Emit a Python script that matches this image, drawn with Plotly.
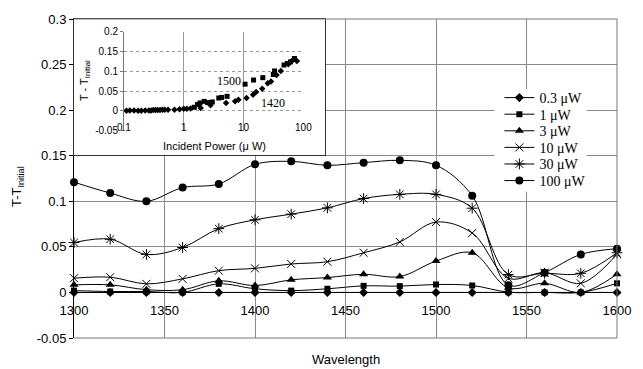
import numpy as np
import plotly.graph_objects as go

# ---- main chart: change in transmission vs wavelength for several powers ----
wavelength = [1300, 1320, 1340, 1360, 1380, 1400, 1420, 1440,
              1460, 1480, 1500, 1520, 1540, 1560, 1580, 1600]

dT_03uW = [0, 0, 0, 0, 0, 0, 0, 0, 0, 0, 0, 0, 0, 0, 0, 0]
dT_1uW = [0.002, 0.001, 0.001, 0.0, 0.0094, 0.004, 0.002, 0.004,
          0.0072, 0.0069, 0.0087, 0.0076, 0.0003, 0.0, 0.0, 0.010]
dT_3uW = [0.0083, 0.0083, 0.003, 0.003, 0.0127, 0.0076, 0.0138, 0.0163,
          0.0199, 0.0174, 0.0344, 0.0435, 0.005, 0.010, 0.0, 0.020]
dT_10uW = [0.0156, 0.0167, 0.0094, 0.0149, 0.0239, 0.0264, 0.0312, 0.0337,
           0.0435, 0.0554, 0.0772, 0.0652, 0.0155, 0.0217, 0.010, 0.042]
dT_30uW = [0.0547, 0.0584, 0.0417, 0.0493, 0.070, 0.0797, 0.0859, 0.0928,
           0.103, 0.1076, 0.1076, 0.0924, 0.0195, 0.021, 0.021, 0.0435]
dT_100uW = [0.121, 0.109, 0.100, 0.115, 0.119, 0.1405, 0.1438, 0.1395,
            0.1424, 0.1449, 0.1395, 0.106, 0.008, 0.0217, 0.0417, 0.048]

series_names = ["0.3 \u03bcW", "1 \u03bcW", "3 \u03bcW", "10 \u03bcW", "30 \u03bcW", "100 \u03bcW"]
series_values = [dT_03uW, dT_1uW, dT_3uW, dT_10uW, dT_30uW, dT_100uW]

x_ticks = [1300, 1350, 1400, 1450, 1500, 1550, 1600]
y_ticks = [-0.05, 0, 0.05, 0.1, 0.15, 0.2, 0.25, 0.3]
y_ticktext = ["-0.05", "0", "0.05", "0.1", "0.15", "0.2", "0.25", "0.3"]

# ---- inset: change in transmission vs incident power at two wavelengths ----
power_1420 = [0.11, 0.125, 0.147, 0.172, 0.195, 0.227, 0.26, 0.284, 0.31, 0.338,
              0.365, 0.40, 0.44, 0.48, 0.546, 0.70, 0.85, 1.0, 1.13, 1.3,
              1.92, 2.8, 5.1, 7.2, 8.2, 11.2, 14.4, 16.2, 20.5, 25.4,
              28.8, 35.6, 42, 56, 66, 78]
dT_1420 = [0.0, 0.001, 0.001, 0.0, 0.0, 0.001, 0.001, 0.001, 0.002, 0.002,
           0.002, 0.002, 0.003, 0.003, 0.003, 0.003, 0.004, 0.005, 0.005, 0.006,
           0.0075, 0.014, 0.02, 0.024, 0.028, 0.0325, 0.041, 0.0475, 0.056, 0.07,
           0.074, 0.091, 0.101, 0.118, 0.128, 0.126]
power_1500 = [1.5, 1.7, 1.87, 2.2, 2.5, 3.0, 3.85, 4.3, 5.3, 10.6,
              14.7, 21, 31.5, 33, 47.5, 54, 61, 71]
dT_1500 = [0.009, 0.016, 0.02, 0.024, 0.021, 0.0225, 0.0325, 0.034, 0.0367, 0.0675,
           0.078, 0.084, 0.092, 0.101, 0.116, 0.12, 0.124, 0.1325]

inset_x_ticks = [0.1, 1, 10, 100]
inset_x_ticktext = ["0.1", "1", "10", "100"]
inset_y_ticks = [-0.05, 0, 0.05, 0.1, 0.15, 0.2]
inset_y_ticktext = ["-0.05", "0", "0.05", "0.1", "0.15", "0.2"]

SANS = "Liberation Sans, Arial, sans-serif"
SERIF = "Liberation Serif, Times New Roman, serif"

markers = [
    dict(symbol="diamond", size=7, color="black"),
    dict(symbol="square", size=6, color="black"),
    dict(symbol="triangle-up", size=8, color="black"),
    dict(symbol="x-thin-open", size=8, color="black", line=dict(color="black", width=1)),
    dict(symbol="asterisk-open", size=9, color="black", line=dict(color="black", width=1)),
    dict(symbol="circle", size=8, color="black"),
]

W, H = 643, 369
ML, MR, MT, MB = 74, 15, 15, 31
PW, PH = W - ML - MR, H - MT - MB


def px(xp):
    return (xp - ML) / PW


def py(yp):
    return (H - MB - yp) / PH


# one single-entry legend per series so the rows sit close together
legend_ids = ["legend"] + ["legend%d" % (i + 2) for i in range(len(series_names) - 1)]
LEGEND_TOP_ROW, LEGEND_ROW_STEP = 95, 16.8

fig = go.Figure()

for name, vals, mk, lg in zip(series_names, series_values, markers, legend_ids):
    fig.add_trace(go.Scatter(
        x=wavelength, y=vals, name=name, mode="lines+markers",
        line=dict(color="black", width=1, shape="spline", smoothing=1),
        marker=mk, cliponaxis=False, xaxis="x", yaxis="y", legend=lg,
    ))

# white panel that holds the inset
fig.add_trace(go.Scatter(x=[None], y=[None], xaxis="x2", yaxis="y2",
                         showlegend=False, hoverinfo="skip"))

fig.add_trace(go.Scatter(
    x=power_1500, y=dT_1500, mode="markers", showlegend=False,
    marker=dict(symbol="square", size=5, color="black"),
    xaxis="x3", yaxis="y3", cliponaxis=False,
))
fig.add_trace(go.Scatter(
    x=power_1420, y=dT_1420, mode="markers", showlegend=False,
    marker=dict(symbol="diamond", size=5, color="black"),
    xaxis="x3", yaxis="y3", cliponaxis=False,
))

GRID = "#8a8a8a"

legend_layout = {}
for i, lg in enumerate(legend_ids):
    legend_layout[lg] = dict(
        x=px(508), y=py(LEGEND_TOP_ROW + i * LEGEND_ROW_STEP),
        xanchor="left", yanchor="middle",
        bgcolor="rgba(0,0,0,0)", borderwidth=0, itemwidth=30,
        font=dict(family=SERIF, size=14, color="black"),
    )

fig.update_layout(
    width=W, height=H,
    margin=dict(l=ML, r=MR, t=MT, b=MB),
    paper_bgcolor="white", plot_bgcolor="white",
    font=dict(family=SANS, size=13, color="black"),
    xaxis=dict(
        range=[1300, 1600], domain=[0, 1], anchor="free", position=1 / 7,
        tickvals=x_ticks, ticks="", ticklabelstandoff=6,
        showgrid=True, gridcolor=GRID, gridwidth=1,
        showline=True, linecolor="black", linewidth=1, zeroline=False,
        tickfont=dict(size=13),
    ),
    yaxis=dict(
        range=[-0.05, 0.3], domain=[0, 1], anchor="x",
        tickvals=y_ticks, ticktext=y_ticktext,
        ticks="outside", ticklen=4, tickcolor="black",
        showgrid=True, gridcolor=GRID, gridwidth=1,
        showline=True, linecolor="black", linewidth=1, zeroline=False,
        tickfont=dict(size=13),
    ),
    xaxis2=dict(
        domain=[0, px(330)], anchor="y2", range=[0, 1],
        showgrid=False, zeroline=False, showticklabels=False,
        showline=True, mirror=True, linecolor="#333", linewidth=1,
    ),
    yaxis2=dict(
        domain=[py(153), 1], anchor="x2", range=[0, 1],
        showgrid=False, zeroline=False, showticklabels=False,
        showline=True, mirror=True, linecolor="#333", linewidth=1,
    ),
    xaxis3=dict(
        type="log", range=[-1, 2], domain=[px(125), px(308)],
        anchor="free", position=py(117),
        tickvals=inset_x_ticks, ticktext=inset_x_ticktext, ticks="",
        showgrid=True, gridcolor="#999", gridwidth=1,
        showline=False, zeroline=False,
        tickfont=dict(size=10),
    ),
    yaxis3=dict(
        range=[-0.05, 0.2], domain=[py(128), py(28)], anchor="x3",
        tickvals=inset_y_ticks, ticktext=inset_y_ticktext,
        ticks="outside", ticklen=3, tickcolor="#777",
        showgrid=True, gridcolor="#999", griddash="dot", gridwidth=1,
        showline=True, linecolor="#777", linewidth=1, zeroline=False,
        tickfont=dict(size=10),
    ),
    showlegend=True,
    **legend_layout,
)

# white backing behind the legend entries
fig.add_shape(type="rect", xref="paper", yref="paper",
              x0=px(503), x1=px(597), y0=py(190), y1=py(86),
              fillcolor="white", line=dict(width=0), layer="above")

# frame of the main plotting area
frame = dict(type="line", xref="x domain", yref="y domain",
             line=dict(color="#777", width=1), layer="above")
fig.add_shape(x0=0, x1=1, y0=1, y1=1, **frame)
fig.add_shape(x0=1, x1=1, y0=0, y1=1, **frame)
fig.add_shape(x0=0, x1=1, y0=0, y1=0, **frame)

centered = dict(showarrow=False, xanchor="center", yanchor="middle")
fig.add_annotation(text="Wavelength", xref="paper", yref="paper",
                   x=px(351), y=py(360), font=dict(family=SANS, size=13), **centered)
fig.add_annotation(text="T-T<sub>Initial</sub>", xref="paper", yref="paper",
                   x=px(17), y=py(185), textangle=-90,
                   font=dict(family=SANS, size=13), **centered)
fig.add_annotation(text="T - T<sub>Initial</sub>", xref="paper", yref="paper",
                   x=px(85), y=py(77), textangle=-90,
                   font=dict(family=SANS, size=11), **centered)
fig.add_annotation(text="Incident Power (\u03bc W)", xref="paper", yref="paper",
                   x=px(217), y=py(144), font=dict(family=SANS, size=11), **centered)
fig.add_annotation(text="1500", xref="x3", yref="y3",
                   x=np.log10(5.67), y=0.075,
                   font=dict(family=SERIF, size=12), **centered)
fig.add_annotation(text="1420", xref="x3", yref="y3",
                   x=np.log10(31), y=0.02,
                   font=dict(family=SERIF, size=12), **centered)

fig.write_html("out.html")
